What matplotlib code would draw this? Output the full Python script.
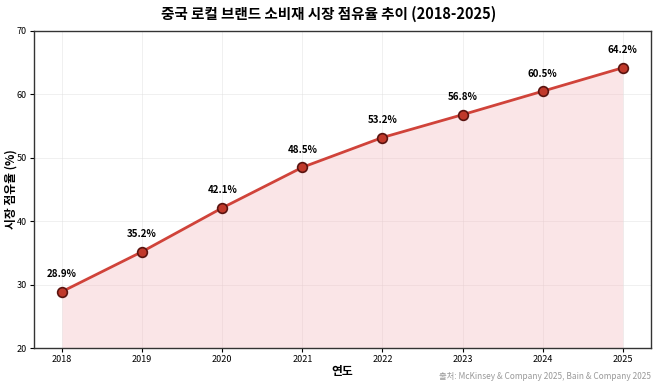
import matplotlib
matplotlib.use("Agg")
import matplotlib.pyplot as plt

plt.rcParams['font.family'] = ['Noto Sans CJK KR', 'DejaVu Sans']

years = [2018, 2019, 2020, 2021, 2022, 2023, 2024, 2025]
share = [28.9, 35.2, 42.1, 48.5, 53.2, 56.8, 60.5, 64.2]
title = "중국 로컬 브랜드 소비재 시장 점유율 추이 (2018-2025)"
xlabel = "연도"
ylabel = "시장 점유율 (%)"
source = "출처: McKinsey & Company 2025, Bain & Company 2025"

fig = plt.figure(figsize=(6.58, 3.86), dpi=100)
ax = fig.add_axes([0.0517, 0.0984, 0.9373, 0.8213])

ax.fill_between(years, share, 20, color='#f3b6bb', alpha=0.35, linewidth=0)
ax.plot(years, share, color='#d0433a', linewidth=2, marker='o', markersize=7,
        markerfacecolor='#c0392b', markeredgecolor='#5a1410', markeredgewidth=1.2, zorder=3)
for x, y in zip(years, share):
    ax.annotate(f"{y}%", (x, y), textcoords='offset points', xytext=(0, 9),
                ha='center', va='bottom', fontsize=7, fontweight='bold')

ax.set_ylim(20, 70)
ax.set_xticks(years)
ax.set_yticks([20, 30, 40, 50, 60, 70])
ax.tick_params(labelsize=6.5, length=3, pad=2)
ax.grid(True, color='#dddddd', linestyle='-', linewidth=0.5, alpha=0.6)
ax.set_axisbelow(True)
for s in ax.spines.values():
    s.set_color('#333333')
    s.set_linewidth(1)

ax.set_xlabel(xlabel, fontsize=8.5, fontweight='bold', labelpad=1)
ax.set_ylabel(ylabel, fontsize=8.5, fontweight='bold')
ax.yaxis.set_label_coords(-0.027, 0.5)
fig.text(0.5, 0.965, title, ha='center', va='center', fontsize=10.5, fontweight='bold')
fig.text(0.99, 0.025, source, ha='right', va='center', fontsize=6, color='#999999')

fig.savefig('out.png', dpi=100)
